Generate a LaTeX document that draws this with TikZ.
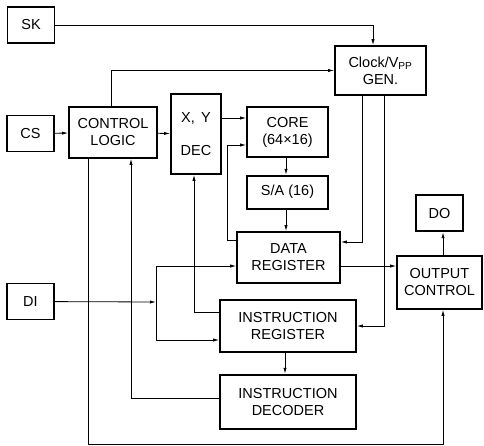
\documentclass[tikz,border=0pt]{standalone}
\usepackage{fontspec}
\setmainfont{Liberation Sans}
\usepackage{tikz}
\usetikzlibrary{positioning,arrows.meta}

\begin{document}
\begin{tikzpicture}[
  x=1pt, y=-1pt,
  font=\fontsize{14.5}{17}\selectfont,
  box/.style={draw, line width=1.7pt, align=center, inner sep=0pt},
  pin/.style={box, minimum width=47pt, minimum height=36pt},
  arr/.style={-{Latex[length=6pt,width=3.2pt]}, line width=0.8pt},
  line/.style={line width=0.8pt},
]
\useasboundingbox (0,0) rectangle (484,446);
% pins (left)
\node[pin] (sk) at (31,25) {SK};
\node[pin] (cs) at (30.5,133.5) {CS};
\node[pin] (di) at (30.5,301.5) {DI};
% control and decode
\node[box, minimum width=88pt, minimum height=51pt] (ctrl) at (113,132.5) {CONTROL\\LOGIC};
\node[box, minimum width=50pt, minimum height=80pt] (xy) at (196,134) {X,\, Y\\[16pt]DEC};
% memory array
\node[box, minimum width=81pt, minimum height=50pt] (core) at (287.5,132) {CORE\\(64×16)};
\node[box, minimum width=81pt, minimum height=33pt, below=17pt of core] (sa) {S/A (16)};
\node[box, minimum width=103pt, minimum height=51pt] (dreg) at (288.5,257.5) {DATA\\REGISTER};
\node[box, minimum width=136pt, minimum height=52pt] (ireg) at (288,326) {INSTRUCTION\\REGISTER};
\node[box, minimum width=136pt, minimum height=54pt, below=21pt of ireg] (idec) {INSTRUCTION\\DECODER};
% clock and output (right)
\node[box, minimum width=91pt, minimum height=49pt] (clk) at (380.5,70.5) {Clock/V\textsubscript{PP}\\GEN.};
\node[box, minimum width=85pt, minimum height=53pt] (out) at (439.5,282.5) {OUTPUT\\CONTROL};
\node[pin, above=23pt of out] (dout) {DO};
\coordinate (split) at (156,302);
% arrows
\draw[arr] (sk.east) -| ([xshift=-7.5]clk.north);
\draw[arr] ([xshift=-2]ctrl.north) |- (clk.west);
\draw[arr] (cs) -- (ctrl); \draw[arr] (ctrl) -- (xy);
\draw[arr] ([yshift=16]xy.east) -- ([yshift=16]xy.east -| core.west);
\draw[arr] ([yshift=17.5]dreg.west) -- ++(-9,0) |- ([yshift=-13]core.west);
\draw[arr] ([xshift=-1.5]core.south) -- ([xshift=-1.5]sa.north);
\draw[arr] ([xshift=-1.5]sa.south) -- ([xshift=-1.5]sa.south |- dreg.north);
\draw[arr] ([xshift=-18.5]clk.south) |- ([yshift=15.5]dreg.east);
\draw[arr] ([xshift=3.5]clk.south) |- (ireg.east);
\draw[arr] ([yshift=-8.5]dreg.east) -- ([yshift=-8.5]dreg.east -| out.west);
\draw[arr] ([xshift=3.5]out.north) -- ([xshift=3.5]dout.south);
\draw[arr] (di) -- (split);
\draw[arr] (split) |- ([yshift=-8.5]dreg.west);
\draw[arr] (split) |- ([yshift=-14]ireg.west);
\draw[arr] ([yshift=14]ireg.west) -| ([xshift=-2]xy.south);
\draw[arr] ([xshift=-3]ireg.south) -- ([xshift=-3]idec.north);
\draw[arr] ([yshift=3]idec.west) -| ([xshift=18]ctrl.south);
\draw[arr] ([xshift=-25]ctrl.south) -- ++(0,286) -| ([xshift=3.5]out.south);
\end{tikzpicture}
\end{document}
